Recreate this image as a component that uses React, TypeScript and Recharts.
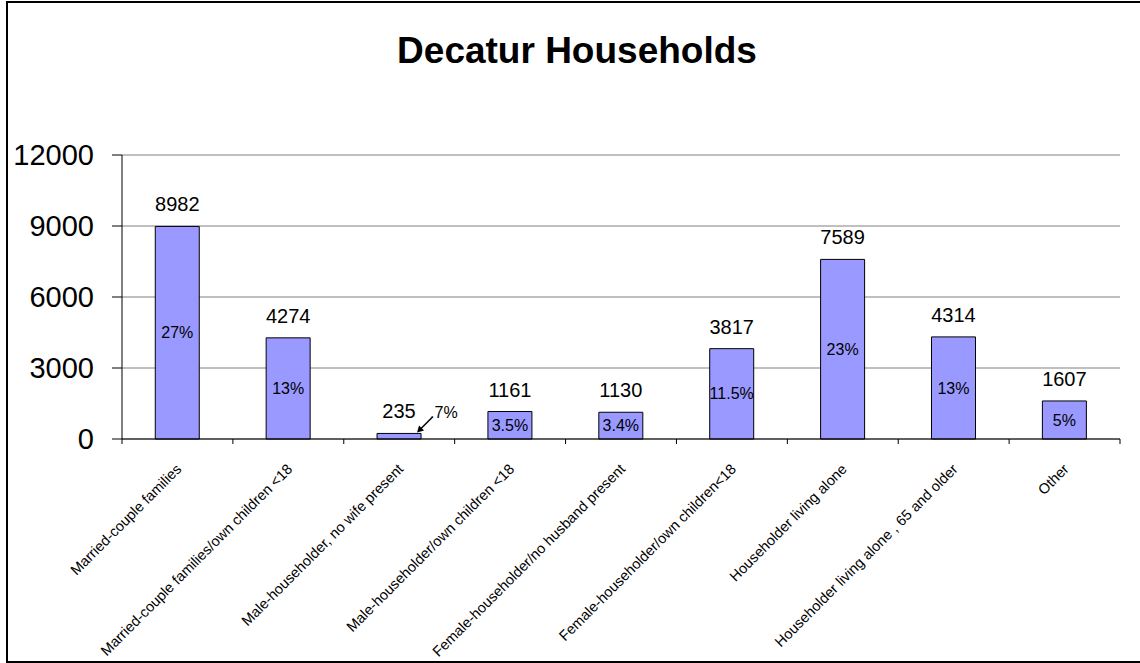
import React from 'react';
import { BarChart, Bar, XAxis, YAxis, CartesianGrid, LabelList } from 'recharts';

const categories = [
  'Married-couple families',
  'Married-couple families/own children <18',
  'Male-householder, no wife present',
  'Male-householder/own children <18',
  'Female-householder/no husband present',
  'Female-householder/own children<18',
  'Householder living alone',
  'Householder living alone , 65 and older',
  'Other',
];
const households = [8982, 4274, 235, 1161, 1130, 3817, 7589, 4314, 1607];
const shares = ['27%', '13%', '.7%', '3.5%', '3.4%', '11.5%', '23%', '13%', '5%'];
const yTicks = [0, 3000, 6000, 9000, 12000];

const FONT = '"Liberation Sans", Arial, sans-serif';

const data = categories.map((name, i) => ({
  name,
  value: households[i],
  pct: shares[i],
}));

const CategoryTick = (props: any) => {
  const { x, y, payload } = props;
  const half = payload.offset || (props.width ? props.width / categories.length / 2 : 55);
  const tx = x + 5;
  const ty = y + 31;
  return (
    <g>
      <line x1={x - half} y1={y} x2={x - half} y2={y + 5} stroke="#000" />
      {payload.index === categories.length - 1 && (
        <line x1={x + half} y1={y} x2={x + half} y2={y + 5} stroke="#000" />
      )}
      <text
        x={tx}
        y={ty}
        transform={`rotate(-45, ${tx}, ${ty})`}
        textAnchor="end"
        fontSize={14.5}
        fontFamily={FONT}
        fill="#000"
      >
        {payload.value}
      </text>
    </g>
  );
};

const PctLabel = (props: any) => {
  const vb = props.viewBox || props;
  const { x, y, width, height } = vb;
  const value = props.value;
  // tiny bars get the label outside with an arrow, like the original
  if (height < 12) {
    const right = x + width;
    return (
      <g>
        <text x={right + 9} y={y - 15} fontSize={16} fontFamily={FONT} fill="#000">
          {value}
        </text>
        <line x1={right + 11} y1={y - 16} x2={right - 2} y2={y - 3} stroke="#000" strokeWidth={1.5} />
        <polygon
          points={`${right - 4},${y - 1} ${right - 2},${y - 8} ${right + 3},${y - 3}`}
          fill="#000"
        />
      </g>
    );
  }
  return (
    <text
      x={x + width / 2}
      y={y + height / 2}
      dy="0.35em"
      textAnchor="middle"
      fontSize={16}
      fontFamily={FONT}
      fill="#000"
    >
      {value}
    </text>
  );
};

const App: React.FC = () => {
  return (
    <div
      style={{
        position: 'fixed',
        left: 0,
        top: 0,
        width: 1140,
        height: 663,
        background: '#fff',
        overflow: 'hidden',
        fontFamily: FONT,
      }}
    >
      <div
        style={{
          position: 'absolute',
          left: 6,
          top: 1,
          width: 1150,
          height: 662,
          border: '2px solid #000',
          boxSizing: 'border-box',
        }}
      />
      <div
        style={{
          position: 'absolute',
          left: 0,
          top: 32,
          width: 1154,
          textAlign: 'center',
          fontSize: 37,
          lineHeight: '37px',
          fontWeight: 'bold',
          color: '#000',
        }}
      >
        Decatur Households
      </div>
      <div style={{ position: 'absolute', left: 0, top: 0 }}>
        <BarChart
          width={1140}
          height={663}
          data={data}
          margin={{ top: 155, right: 20, bottom: 24, left: 10 }}
          barCategoryGap="30%"
          style={{ fontFamily: FONT }}
        >
          <CartesianGrid vertical={false} stroke="#808080" />
          <XAxis
            dataKey="name"
            interval={0}
            height={200}
            tickSize={0}
            tickMargin={0}
            tickLine={false}
            axisLine={{ stroke: '#000' }}
            tick={<CategoryTick />}
          />
          <YAxis
            domain={[0, 12000]}
            ticks={yTicks}
            width={112}
            tickSize={10}
            tickMargin={18}
            axisLine={{ stroke: '#000' }}
            tickLine={{ stroke: '#000' }}
            tick={{ fontSize: 29, fill: '#000', fontFamily: FONT }}
          />
          <YAxis
            yAxisId="frame"
            orientation="right"
            width={0}
            tick={false}
            tickLine={false}
            axisLine={{ stroke: '#808080' }}
          />
          <Bar dataKey="value" fill="#9999FF" stroke="#000" strokeWidth={1} isAnimationActive={false}>
            <LabelList dataKey="value" position="top" offset={15} fontSize={20} fill="#000" fontFamily={FONT} />
            <LabelList dataKey="pct" content={<PctLabel />} />
          </Bar>
        </BarChart>
      </div>
    </div>
  );
};

export default App;
